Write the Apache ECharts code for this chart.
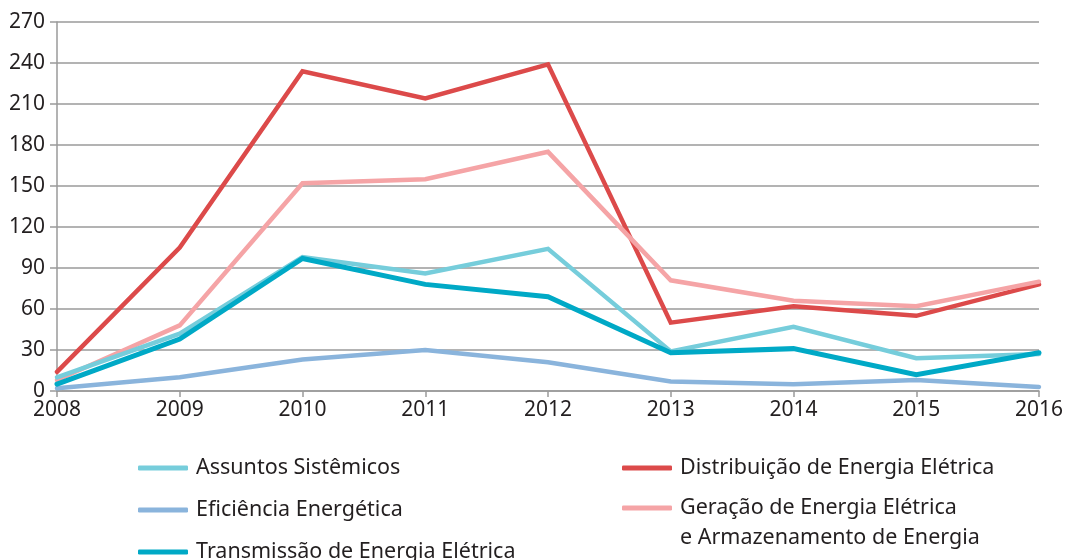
<!DOCTYPE html>
<html>
<head>
<meta charset="utf-8">
<script src="https://cdn.jsdelivr.net/npm/echarts@6/dist/echarts.min.js"></script>
<style>
  html, body { margin: 0; padding: 0; background: #fff; }
  #chart { width: 1074px; height: 560px; }
</style>
</head>
<body>
<div id="chart"></div>
<script>
var years = ['2008', '2009', '2010', '2011', '2012', '2013', '2014', '2015', '2016'];
var yTicks = [0, 30, 60, 90, 120, 150, 180, 210, 240, 270];

var assuntos = [10, 42, 98, 86, 104, 29, 47, 24, 27];
var eficiencia = [2, 10, 23, 30, 21, 7, 5, 8, 3];
var transmissao = [5, 38, 97, 78, 69, 28, 31, 12, 28];
var distribuicao = [14, 105, 234, 214, 239, 50, 62, 55, 78];
var geracao = [8, 48, 152, 155, 175, 81, 66, 62, 80];

var names = {
    assuntos: 'Assuntos Sistêmicos',
    eficiencia: 'Eficiência Energética',
    transmissao: 'Transmissão de Energia Elétrica',
    distribuicao: 'Distribuição de Energia Elétrica',
    geracao: 'Geração de Energia Elétrica'
};

var font = '"Noto Sans", sans-serif';
var textColor = '#231f20';

function line(name, data, color, width, z) {
    return {
        name: name,
        type: 'line',
        data: data,
        symbol: 'none',
        z: z,
        lineStyle: { color: color, width: width, cap: 'round', join: 'miter' },
        itemStyle: { color: color }
    };
}

// one legend per entry so each sits where the reference puts it
function legendItem(name, left, top, formatter) {
    var l = {
        left: left, top: top, orient: 'vertical',
        itemWidth: 50, itemHeight: 5, icon: 'roundRect',
        textStyle: { fontFamily: font, fontSize: 21.5, color: textColor, lineHeight: 30, padding: [0, 0, 0, 3] },
        data: [name]
    };
    if (formatter) l.formatter = formatter;
    return l;
}

var myChart = echarts.init(document.getElementById('chart'));
var options = {
    animation: false,
    grid: { left: 57, right: 35, top: 22, bottom: 169 },
    xAxis: {
        type: 'category',
        data: years,
        boundaryGap: false,
        axisLine: { lineStyle: { color: '#9a9a9a', width: 1.5 } },
        axisTick: { length: 6, lineStyle: { color: '#9a9a9a', width: 1.5 } },
        axisLabel: { fontFamily: font, fontSize: 21, color: textColor, margin: 9 },
        splitLine: { show: false }
    },
    yAxis: {
        type: 'value',
        min: yTicks[0],
        max: yTicks[yTicks.length - 1],
        interval: 30,
        axisLine: { show: true, lineStyle: { color: '#9a9a9a', width: 1.5 } },
        axisTick: { show: true, length: 7, lineStyle: { color: '#9a9a9a', width: 1.5 } },
        axisLabel: { fontFamily: font, fontSize: 21, color: textColor, margin: 12 },
        splitLine: { lineStyle: { color: '#9a9a9a', width: 1.5 } }
    },
    legend: [
        legendItem(names.assuntos, 133, 448),
        legendItem(names.eficiencia, 133, 490),
        legendItem(names.transmissao, 133, 532),
        legendItem(names.distribuicao, 617, 448),
        legendItem(names.geracao, 617, 458, function (n) {
            return '\n' + n + '\ne Armazenamento de Energia';
        })
    ],
    series: [
        line(names.eficiencia, eficiencia, '#8ab4dc', 4.5, 2),
        line(names.distribuicao, distribuicao, '#dc4a4a', 4.5, 3),
        line(names.geracao, geracao, '#f5a4a6', 4.5, 4),
        line(names.assuntos, assuntos, '#76cddb', 4.5, 5),
        line(names.transmissao, transmissao, '#00a9c6', 5, 6)
    ]
};
myChart.setOption(options, true);
</script>
</body>
</html>
